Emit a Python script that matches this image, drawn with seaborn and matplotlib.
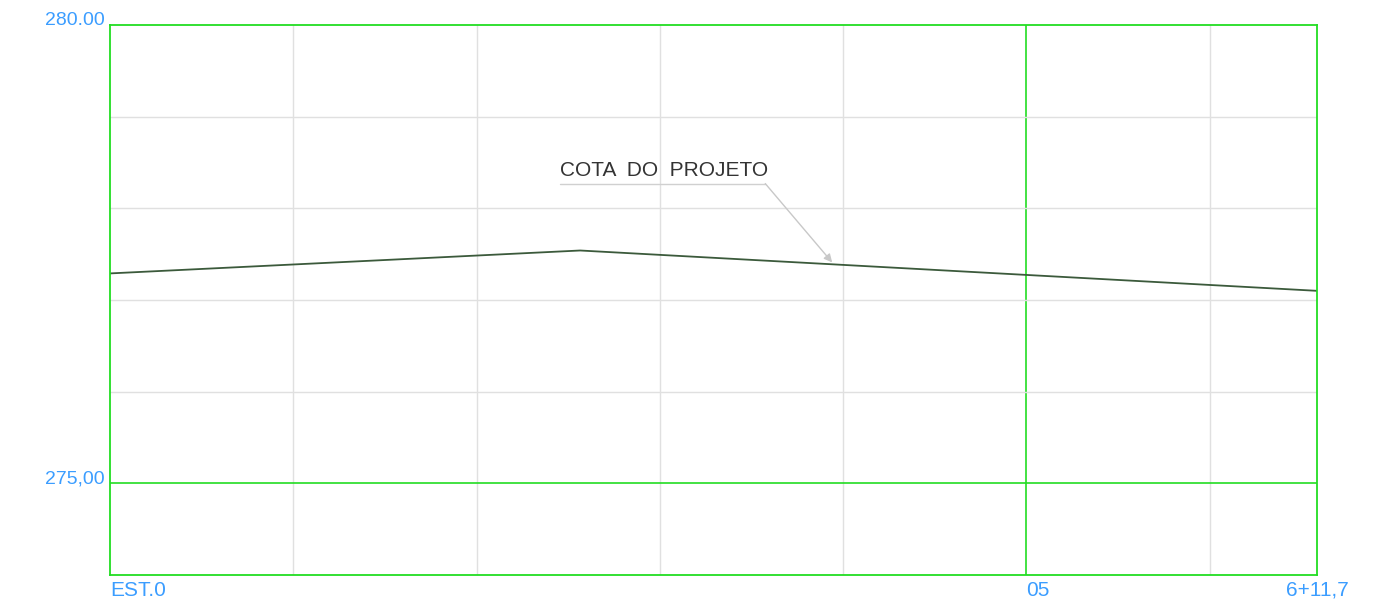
"""Perfil longitudinal - cota do projeto."""
import pandas as pd
import seaborn as sns
import matplotlib.pyplot as plt

distancias = [0.0, 51.3, 131.7]
cotas = [277.29, 277.54, 277.10]

x_ticks = [0.0, 100.0, 131.7]
x_labels = ["EST.0", "05", "6+11,7"]
y_ticks = [275.0, 280.0]
y_labels = ["275,00", "280.00"]

df = pd.DataFrame({"dist": distancias, "cota": cotas})

sns.set_style("white")
plt.rcParams["font.family"] = ["Liberation Sans", "DejaVu Sans"]

GREEN = "#22dd22"
GRID = "#e0e0e0"
BLUE = "#3b9dff"

fig = plt.figure(figsize=(13.87, 6.02), dpi=100)
ax = fig.add_axes([110 / 1387, 27 / 602, 1207 / 1387, 550 / 602])

XMIN, XMAX = 0.0, 131.7
YMIN, YMAX = 274.0, 280.0

# Grade
for xv in range(20, 131, 20):
    ax.axvline(xv, color=GREEN if xv == 100 else GRID, lw=1.2 if xv == 100 else 1, zorder=0)
for yv in range(275, 280):
    ax.axhline(yv, color=GREEN if yv == 275 else GRID, lw=1.2 if yv == 275 else 1, zorder=0)

# Perfil
sns.lineplot(data=df, x="dist", y="cota", color="#3b5a3b", lw=1.3, ax=ax)

# Anotação
ax.text(49.1, 278.31, "COTA  DO  PROJETO", fontsize=15, color="#333333",
        ha="left", va="bottom")
ax.plot([49.1, 71.5], [278.27, 278.27], color="#d0d0d0", lw=1)
ax.annotate("", xy=(78.8, 277.41), xytext=(71.5, 278.27),
            arrowprops=dict(arrowstyle="-|>", color="#c8c8c8", lw=1,
                            mutation_scale=12, shrinkA=0, shrinkB=0))

ax.set_xlim(XMIN, XMAX)
ax.set_ylim(YMIN, YMAX)
ax.set_xlabel("")
ax.set_ylabel("")
ax.set_xticks(x_ticks)
ax.set_xticklabels(x_labels)
ax.set_yticks(y_ticks)
ax.set_yticklabels(y_labels)
ax.tick_params(length=0, colors=BLUE, labelsize=14)
ax.tick_params(axis="x", pad=4, labelsize=15)
ax.tick_params(axis="y", pad=4)
for lbl in ax.get_xticklabels():
    lbl.set_color(BLUE)
xl = ax.get_xticklabels()
xl[0].set_ha("left")
xl[1].set_ha("left")
for lbl in ax.get_yticklabels():
    lbl.set_va("baseline")
for sp in ax.spines.values():
    sp.set_color(GREEN)
    sp.set_linewidth(1.3)

fig.savefig("out.png", dpi=100, facecolor="white")
plt.close(fig)
